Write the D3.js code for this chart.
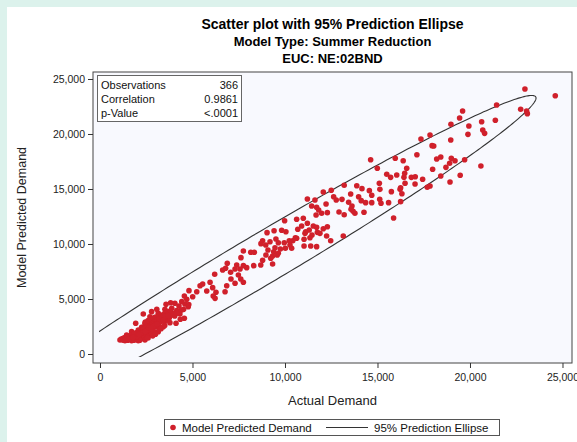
<!DOCTYPE html>
<html>
<head>
<meta charset="utf-8">
<script src="https://cdn.jsdelivr.net/npm/d3@7"></script>
<style>
  body { margin: 0; background: #dcf2ec; }
  svg { display: block; font-family: "Liberation Sans", Arial, sans-serif; }
  .tick text { font-size: 10.5px; fill: #222; }
  .tick line, .domain { stroke: #333; }
</style>
</head>
<body>
<svg width="577" height="442"></svg>
<script>
// values
const titleLines = ["Scatter plot with 95% Prediction Ellipse", "Model Type: Summer Reduction", "EUC: NE:02BND"];
const statLabels = ["Observations", "Correlation", "p-Value"];
const statValues = ["366", "0.9861", "<.0001"];
const xTicks = [0, 5000, 10000, 15000, 20000, 25000];
const yTicks = [0, 5000, 10000, 15000, 20000, 25000];
const legendItems = ["Model Predicted Demand", "95% Prediction Ellipse"];

// prediction ellipse (data units)
const ellipseCenter = [8740, 8610];
const ellipseTip = [23570, 23270];     // right-most point
const ellipseHalfHeight = 2624;        // vertical half chord through the centre

const actualDemand = [
  22970,24610,21440,22740,23060,23100,20630,21370,20690,20790,
  20590,19600,19440,18970,19940,19890,17840,17350,18960,17950,
  18040,17130,15960,16390,18420,18200,18990,19190,18900,19710,
  18700,17980,16580,16470,19470,18420,17440,16830,17040,16430,
  16040,15710,18920,17840,17690,17030,16490,16250,14630,14990,
  15500,15100,13880,14160,13200,12070,12500,13550,14560,15130,
  15750,16220,16320,12630,12770,13080,13980,14120,14690,14360,
  14690,15120,15190,15600,16250,11210,11620,12220,11710,11440,
  13440,13620,13570,13780,13680,12920,13200,14270,12290,11980,
  11820,10630,10990,15870,11210,10900,11530,11710,12070,12290,
  10690,11310,11080,11460,11890,10630,11030,10420,12250,13150,
  12470,11390,11710,11030,11680,9980,11120,11750,9410,9820,
  9030,10050,10560,11350,9510,8790,9190,9640,9960,10270,
  10230,8700,8960,9460,9750,10020,10360,9390,9640,9080,
  7750,8150,8340,8970,9330,9580,9230,7620,8790,8690,
  9330,8310,7930,7750,7390,6880,6790,7300,7570,7060,
  6630,7480,7610,7300,7750,7080,6200,5550,5410,5950,
  6090,6850,6760,6270,5230,5770,4810,6120,6220,4560,
  5010,4690,4420,4050,3820,3570,4270,4590,4770,3880,
  3510,3730,4150,4520,4320,4040,4560,4340,4110,3070,
  2790,3150,2340,2700,2970,3340,3690,2970,3240,3510,
  3780,2610,2430,1930,3420,3150,2790,2430,2250,2070,
  2610,2880,3150,1710,1890,2250,2520,2790,1440,1620,
  1980,2340,1260,1530,1890,1080,1350,1710,2070,2430,
  1150,1300,1450,1600,1750,1900,2050,2200,2350,2500,
  1550,1700,1850,2000,2150,2300,2450,2600,2750,2900,
  2100,2250,2400,2550,2700,2850,3000,3150,2350,2500,
  2650,2800,2950,3100,3250,3400,2450,2600,2750,2900,
  3050,3200,3350,3500,3650,1350,1500,1800,2150,2600,
  2850,3000,3300,3500,3600,3750,3900,4200,4400,4800,
  1200,1250,1400,1500,1650,1700,1800,1950,2000,2100,
  2200,2300,2400,2450,2550,2600,2700,2800,2850,2950,
  3050,3100,3200,3300,3400,3450,3550,3700,3800,1600,
  1900,2250,2500,2650,2900,3150,3350,1450,1750,2050,
  2350,2700,3000,3250,2150,2400,2550,2800,3050,1850,
  2000,2300,2600,2900,3200,3500,1300,1550,1800,2100,
  2450,2750,3100,3400,3700,4000
];
const predictedDemand = [
  24090,23480,22640,22250,22090,21850,21120,21250,20360,20060,
  17090,22090,21460,20880,20730,19970,19910,19550,19460,18940,
  18910,18120,17790,17570,17910,17730,17790,17570,17340,17660,
  16970,16790,16880,16430,16250,16180,15880,16060,16120,16060,
  16270,16060,15640,15270,15160,15460,15520,15120,17660,16880,
  16340,15520,15300,15030,15340,14730,14880,14550,14850,14970,
  14760,14970,14570,14300,14000,14060,14300,13940,14430,13760,
  13760,14060,13700,13760,13850,14090,14000,13640,13340,13460,
  13790,13460,13160,12790,12970,12910,12660,12880,12850,12790,
  13090,12250,12340,12360,11880,11640,11640,11520,11390,11570,
  11340,11270,10970,10820,10970,10520,10430,10300,10730,10730,
  10300,9820,9760,9820,12640,12120,11120,11060,11210,11250,
  11030,11120,10570,10570,10460,10300,10210,10120,10120,9910,
  10300,10030,9910,9660,9550,9610,9610,9300,9160,9460,
  9360,9250,9250,9000,8910,9000,8700,8760,8520,8090,
  8180,8030,7850,8030,8090,8250,7790,7730,7730,7430,
  7640,7180,6820,6430,6520,6820,7250,6360,6210,6520,
  6030,6210,5660,5610,5660,5730,5760,5270,5060,5270,
  5210,4970,4760,4610,4660,4520,4360,4550,4300,4160,
  4060,3850,3940,4060,3640,3460,3250,3160,2790,4060,
  3850,3700,3640,3390,3340,3390,3390,2940,2940,3030,
  2850,2790,2790,2790,2480,2430,2430,2340,2430,2180,
  2030,2120,2030,2030,1880,1820,1730,1730,1730,1570,
  1570,1430,1430,1340,1270,1270,1210,1210,1210,1270,
  1350,1300,1400,1350,1400,1450,1350,1500,1600,1550,
  1500,1650,1700,1800,1650,1750,1900,1850,1950,2000,
  2050,2100,2200,2300,2250,2350,2500,2600,2450,2550,
  2650,2750,2850,2950,3100,3200,2900,3050,3150,3250,
  3350,3500,3550,3700,3800,1500,1250,1250,1250,1450,
  1650,1800,2300,2600,3100,3300,3550,3700,4000,4500,
  1300,1400,1450,1600,1550,1750,1600,1700,1950,1900,
  2000,2050,2150,2350,2400,2500,2550,2600,2800,2900,
  2950,3100,3050,3300,3400,3150,3450,3600,3900,1450,
  1550,1900,2050,2400,2700,2800,3000,1500,1500,1700,
  2300,2450,2650,2900,1850,2000,2150,2450,2750,1850,
  1600,1950,2200,2550,3200,3400,1250,1350,1500,1800,
  2050,2350,2700,3050,3500,3700
];

const svg = d3.select("svg");
const W = 577, H = 442;
const plot = { left: 93, right: 572, top: 72, bottom: 363 };
const red = "#d0202b";

// white panel over the mint page colour
svg.append("rect").attr("x", 7).attr("y", 7).attr("width", W - 7).attr("height", H - 7).attr("fill", "#fff");

const x = d3.scaleLinear().domain([-378, 25514]).range([plot.left, plot.right]);
const y = d3.scaleLinear().domain([-818, 25636]).range([plot.bottom, plot.top]);

// titles
titleLines.forEach((t, i) => {
  svg.append("text")
    .attr("x", (plot.left + plot.right) / 2)
    .attr("y", 29 + i * 17)
    .attr("text-anchor", "middle")
    .attr("font-weight", "bold")
    .attr("font-size", i === 0 ? "14px" : "13px")
    .attr("fill", "#000")
    .text(t);
});

svg.append("rect")
  .attr("x", plot.left).attr("y", plot.top)
  .attr("width", plot.right - plot.left).attr("height", plot.bottom - plot.top)
  .attr("fill", "#f8f9fe");

// the ellipse stops at the data area, a few pixels inside the frame
svg.append("defs").append("clipPath").attr("id", "clip")
  .append("rect")
  .attr("x", plot.left + 6).attr("y", plot.top)
  .attr("width", plot.right - plot.left - 6).attr("height", plot.bottom - plot.top - 6);

// ellipse = centre + A cos t + B sin t, A to the tip, B vertical
const ax = ellipseTip[0] - ellipseCenter[0], ay = ellipseTip[1] - ellipseCenter[1];
const ell = d3.range(0, 361).map(k => {
  const t = k * Math.PI / 180;
  return [ellipseCenter[0] + ax * Math.cos(t),
          ellipseCenter[1] + ay * Math.cos(t) + ellipseHalfHeight * Math.sin(t)];
});

svg.append("path")
  .attr("clip-path", "url(#clip)")
  .attr("d", d3.line().x(d => x(d[0])).y(d => y(d[1]))(ell))
  .attr("fill", "none").attr("stroke", "#333").attr("stroke-width", 1.1);

const pts = actualDemand.map((a, i) => [a, predictedDemand[i]]);
svg.append("g")
  .selectAll("circle.pt")
  .data(pts)
  .enter()
  .append("circle")
  .attr("class", "pt")
  .attr("cx", d => x(d[0]))
  .attr("cy", d => y(d[1]))
  .attr("r", 2.8)
  .attr("fill", red);

svg.append("rect")
  .attr("x", plot.left).attr("y", plot.top)
  .attr("width", plot.right - plot.left).attr("height", plot.bottom - plot.top)
  .attr("fill", "none").attr("stroke", "#444");

// axes
const fmt = d3.format(",");
svg.append("g")
  .attr("transform", `translate(0,${plot.bottom})`)
  .call(d3.axisBottom(x).tickValues(xTicks).tickFormat(fmt).tickSize(5).tickPadding(6))
  .call(a => a.select(".domain").remove());
svg.append("g")
  .attr("transform", `translate(${plot.left},0)`)
  .call(d3.axisLeft(y).tickValues(yTicks).tickFormat(fmt).tickSize(5).tickPadding(3))
  .call(a => a.select(".domain").remove());

svg.append("text")
  .attr("x", (plot.left + plot.right) / 2).attr("y", 405)
  .attr("text-anchor", "middle").attr("font-size", "13px").attr("fill", "#222")
  .text("Actual Demand");
svg.append("text")
  .attr("transform", `translate(26,${(plot.top + plot.bottom) / 2}) rotate(-90)`)
  .attr("text-anchor", "middle").attr("font-size", "12.5px").attr("fill", "#222")
  .text("Model Predicted Demand");

// statistics box
const sb = svg.append("g");
sb.append("rect").attr("x", 97.5).attr("y", 75.5).attr("width", 144).attr("height", 46)
  .attr("fill", "#fff").attr("stroke", "#666");
statLabels.forEach((s, i) => {
  sb.append("text").attr("x", 101).attr("y", 89 + i * 14)
    .attr("font-size", "11px").attr("fill", "#111").text(s);
  sb.append("text").attr("x", 238).attr("y", 89 + i * 14)
    .attr("text-anchor", "end").attr("font-size", "11px").attr("fill", "#111").text(statValues[i]);
});

// legend
const lg = svg.append("g");
lg.append("rect").attr("x", 164.5).attr("y", 419.5).attr("width", 335).attr("height", 16)
  .attr("fill", "#fff").attr("stroke", "#555");
lg.append("circle").attr("cx", 173).attr("cy", 427.5).attr("r", 2.8).attr("fill", red);
lg.append("text").attr("x", 182).attr("y", 431.5).attr("font-size", "11.5px").attr("fill", "#111").text(legendItems[0]);
lg.append("line").attr("x1", 326).attr("x2", 368).attr("y1", 427.5).attr("y2", 427.5).attr("stroke", "#333");
lg.append("text").attr("x", 374).attr("y", 431.5).attr("font-size", "11.5px").attr("fill", "#111").text(legendItems[1]);
</script>
</body>
</html>
